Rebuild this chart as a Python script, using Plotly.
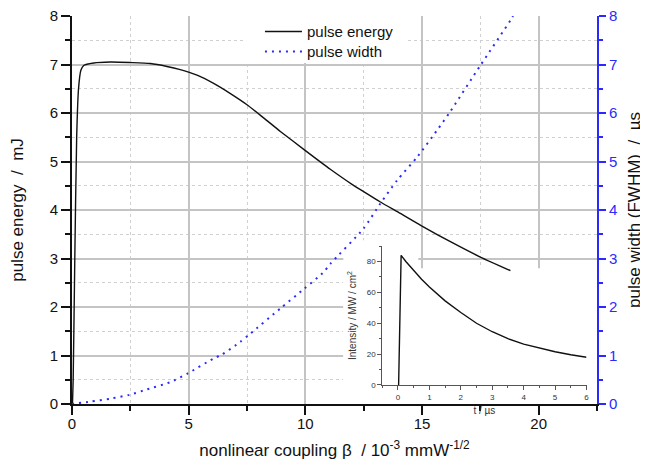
import plotly.graph_objects as go

# main curves
beta_energy = [0.02, 0.05, 0.12, 0.2, 0.28, 0.38, 0.5, 0.93, 1.64, 2.5, 3.36, 4.07, 4.6,
               5.36, 6.07, 6.79, 7.5, 8.21, 8.93, 9.96, 11.07, 12.0, 12.5, 13.2,
               14.07, 14.96, 16.36, 17.5, 18.79]
pulse_energy = [0.0, 0.5, 3.0, 5.5, 6.5, 6.88, 6.98, 7.03, 7.05, 7.04, 7.02, 6.96, 6.9,
                6.78, 6.61, 6.4, 6.17, 5.9, 5.62, 5.24, 4.84, 4.53, 4.38, 4.17,
                3.93, 3.68, 3.31, 3.03, 2.75]

beta_width = [0.0, 0.78, 1.64, 2.47, 3.21, 4.21, 4.96, 6.07, 6.43, 7.21, 7.64, 8.93, 9.96,
              10.79, 11.07, 12.5, 13.21, 13.93, 14.79, 15.64, 16.17, 17.5, 18.79, 18.9]
pulse_width = [0.0, 0.05, 0.11, 0.19, 0.3, 0.45, 0.63, 0.94, 1.02, 1.28, 1.45, 1.97, 2.38,
               2.72, 2.89, 3.62, 4.13, 4.61, 5.09, 5.64, 6.0, 6.98, 7.91, 8.0]

# inset: temporal pulse shape
t_us = [0.02, 0.1, 0.25, 0.5, 0.75, 1.0, 1.5, 2.0, 2.5, 3.0, 3.5, 4.0, 4.5, 5.0, 5.5, 6.0]
intensity = [0, 84, 80, 74, 68.5, 63.5, 54.5, 47, 40, 34.5, 30, 26.5, 23.8, 21.5, 19.6, 18]

FONT = "Arial, Liberation Sans, sans-serif"
BLUE = "#2a2aff"
NB = "\u00a0"

fig = go.Figure()

fig.add_trace(go.Scatter(x=beta_energy, y=pulse_energy, mode="lines", name="pulse energy",
                         line=dict(color="#111", width=1.4, shape="spline", smoothing=0.6),
                         xaxis="x", yaxis="y", legend="legend"))
fig.add_trace(go.Scatter(x=beta_width, y=pulse_width, mode="lines", name="pulse width",
                         line=dict(color=BLUE, width=2, dash="2px,5px", shape="spline",
                                   smoothing=0.6),
                         xaxis="x", yaxis="y2", legend="legend2"))
fig.add_trace(go.Scatter(x=t_us, y=intensity, mode="lines", showlegend=False,
                         line=dict(color="#111", width=1.4), xaxis="x3", yaxis="y3"))

# white patches hiding the main grid behind the inset and the legend
for x0, x1, y0, y1 in [(11.63, 22.5, 0, 2.8), (11.63, 14.84, 0, 3.375),
                       (7.34, 14.37, 7.03, 8)]:
    fig.add_shape(type="rect", xref="x", yref="y", x0=x0, x1=x1, y0=y0, y1=y1,
                  fillcolor="white", line_width=0, layer="between")

grid = dict(showgrid=True, gridcolor="#c4c4c4", gridwidth=1.5)
minor_grid = dict(showgrid=True, gridcolor="#d0d0d0", griddash="dot", gridwidth=1)
leg = dict(x=0.358, xanchor="left", yanchor="middle", bgcolor="rgba(0,0,0,0)",
           font=dict(size=15, color="#111"), itemwidth=37)

fig.update_layout(
    width=640,
    height=463,
    margin=dict(l=64, r=51, t=8, b=67, autoexpand=False),
    paper_bgcolor="white",
    plot_bgcolor="rgba(0,0,0,0)",
    font=dict(family=FONT, color="#111", size=14),
    showlegend=True,
    legend=dict(y=0.9595, **leg),
    legend2=dict(y=0.908, **leg),
    xaxis=dict(
        range=[0, 22.5], dtick=5, tick0=0, ticks="outside", ticklen=9, tickwidth=1.5,
        tickcolor="#111", showline=True, linecolor="#111", linewidth=2, zeroline=False,
        minor=dict(dtick=2.5, ticks="outside", ticklen=5, tickcolor="#111", **minor_grid),
        title=dict(text="nonlinear coupling β" + NB + NB + "/ 10<sup>-3</sup> mmW<sup>-1/2</sup>",
                   font=dict(size=17), standoff=13),
        tickfont=dict(size=15), ticklabelstandoff=-4,
        **grid,
    ),
    xaxis4=dict(
        overlaying="x", side="top", anchor="y", range=[0, 22.5], dtick=5, tick0=0,
        ticks="inside", ticklen=9, tickwidth=1.5, tickcolor="#111", showline=True,
        linecolor="#111", linewidth=2, showticklabels=False, showgrid=False, zeroline=False,
        minor=dict(dtick=2.5, ticks="inside", ticklen=4, tickcolor="#111", showgrid=False),
    ),
    yaxis=dict(
        range=[0, 8], dtick=1, ticks="outside", ticklen=9, tickwidth=1.5, tickcolor="#111",
        showline=True, linecolor="#111", linewidth=2, zeroline=False,
        minor=dict(dtick=0.5, ticks="outside", ticklen=5, tickcolor="#111", **minor_grid),
        title=dict(text="pulse energy" + NB + NB + "/" + NB + NB + "mJ",
                   font=dict(size=17), standoff=22),
        tickfont=dict(size=15), ticklabeloverflow="allow",
        **grid,
    ),
    yaxis2=dict(
        overlaying="y", side="right", anchor="x", range=[0, 8], dtick=1,
        ticks="outside", ticklen=7, tickwidth=1.5, tickcolor=BLUE, showline=True,
        linecolor=BLUE, linewidth=2, showgrid=False, zeroline=False,
        minor=dict(dtick=0.5, ticks="outside", ticklen=4, tickcolor=BLUE, showgrid=False),
        tickfont=dict(color=BLUE, size=15), ticklabeloverflow="allow",
        title=dict(text="pulse width (FWHM)" + NB + NB + "/" + NB + NB + "µs",
                   font=dict(size=17, color="#111"), standoff=12),
    ),
    xaxis3=dict(
        domain=[0.591, 0.98], anchor="y3", range=[-0.5, 6], dtick=1, tick0=0,
        ticks="outside", ticklen=4, tickcolor="#555", showline=True, linecolor="#555",
        linewidth=1, showgrid=False, zeroline=False,
        minor=dict(dtick=0.5, ticks="outside", ticklen=2, tickcolor="#555"),
        tickfont=dict(size=8, color="#333"),
        title=dict(text="t" + NB + "/" + NB + "µs", font=dict(size=10, color="#333"),
                   standoff=6),
    ),
    yaxis3=dict(
        domain=[0.049, 0.407], anchor="x3", range=[0, 90], dtick=20,
        ticks="outside", ticklen=4, tickcolor="#555", showline=True, linecolor="#555",
        linewidth=1, showgrid=False, zeroline=False,
        minor=dict(dtick=10, ticks="outside", ticklen=2, tickcolor="#555"),
        tickfont=dict(size=8, color="#333"),
        title=dict(text="Intensity / MW / cm<sup>2</sup>", font=dict(size=10, color="#333"),
                   standoff=8),
    ),
)

fig.write_html("out.html")
